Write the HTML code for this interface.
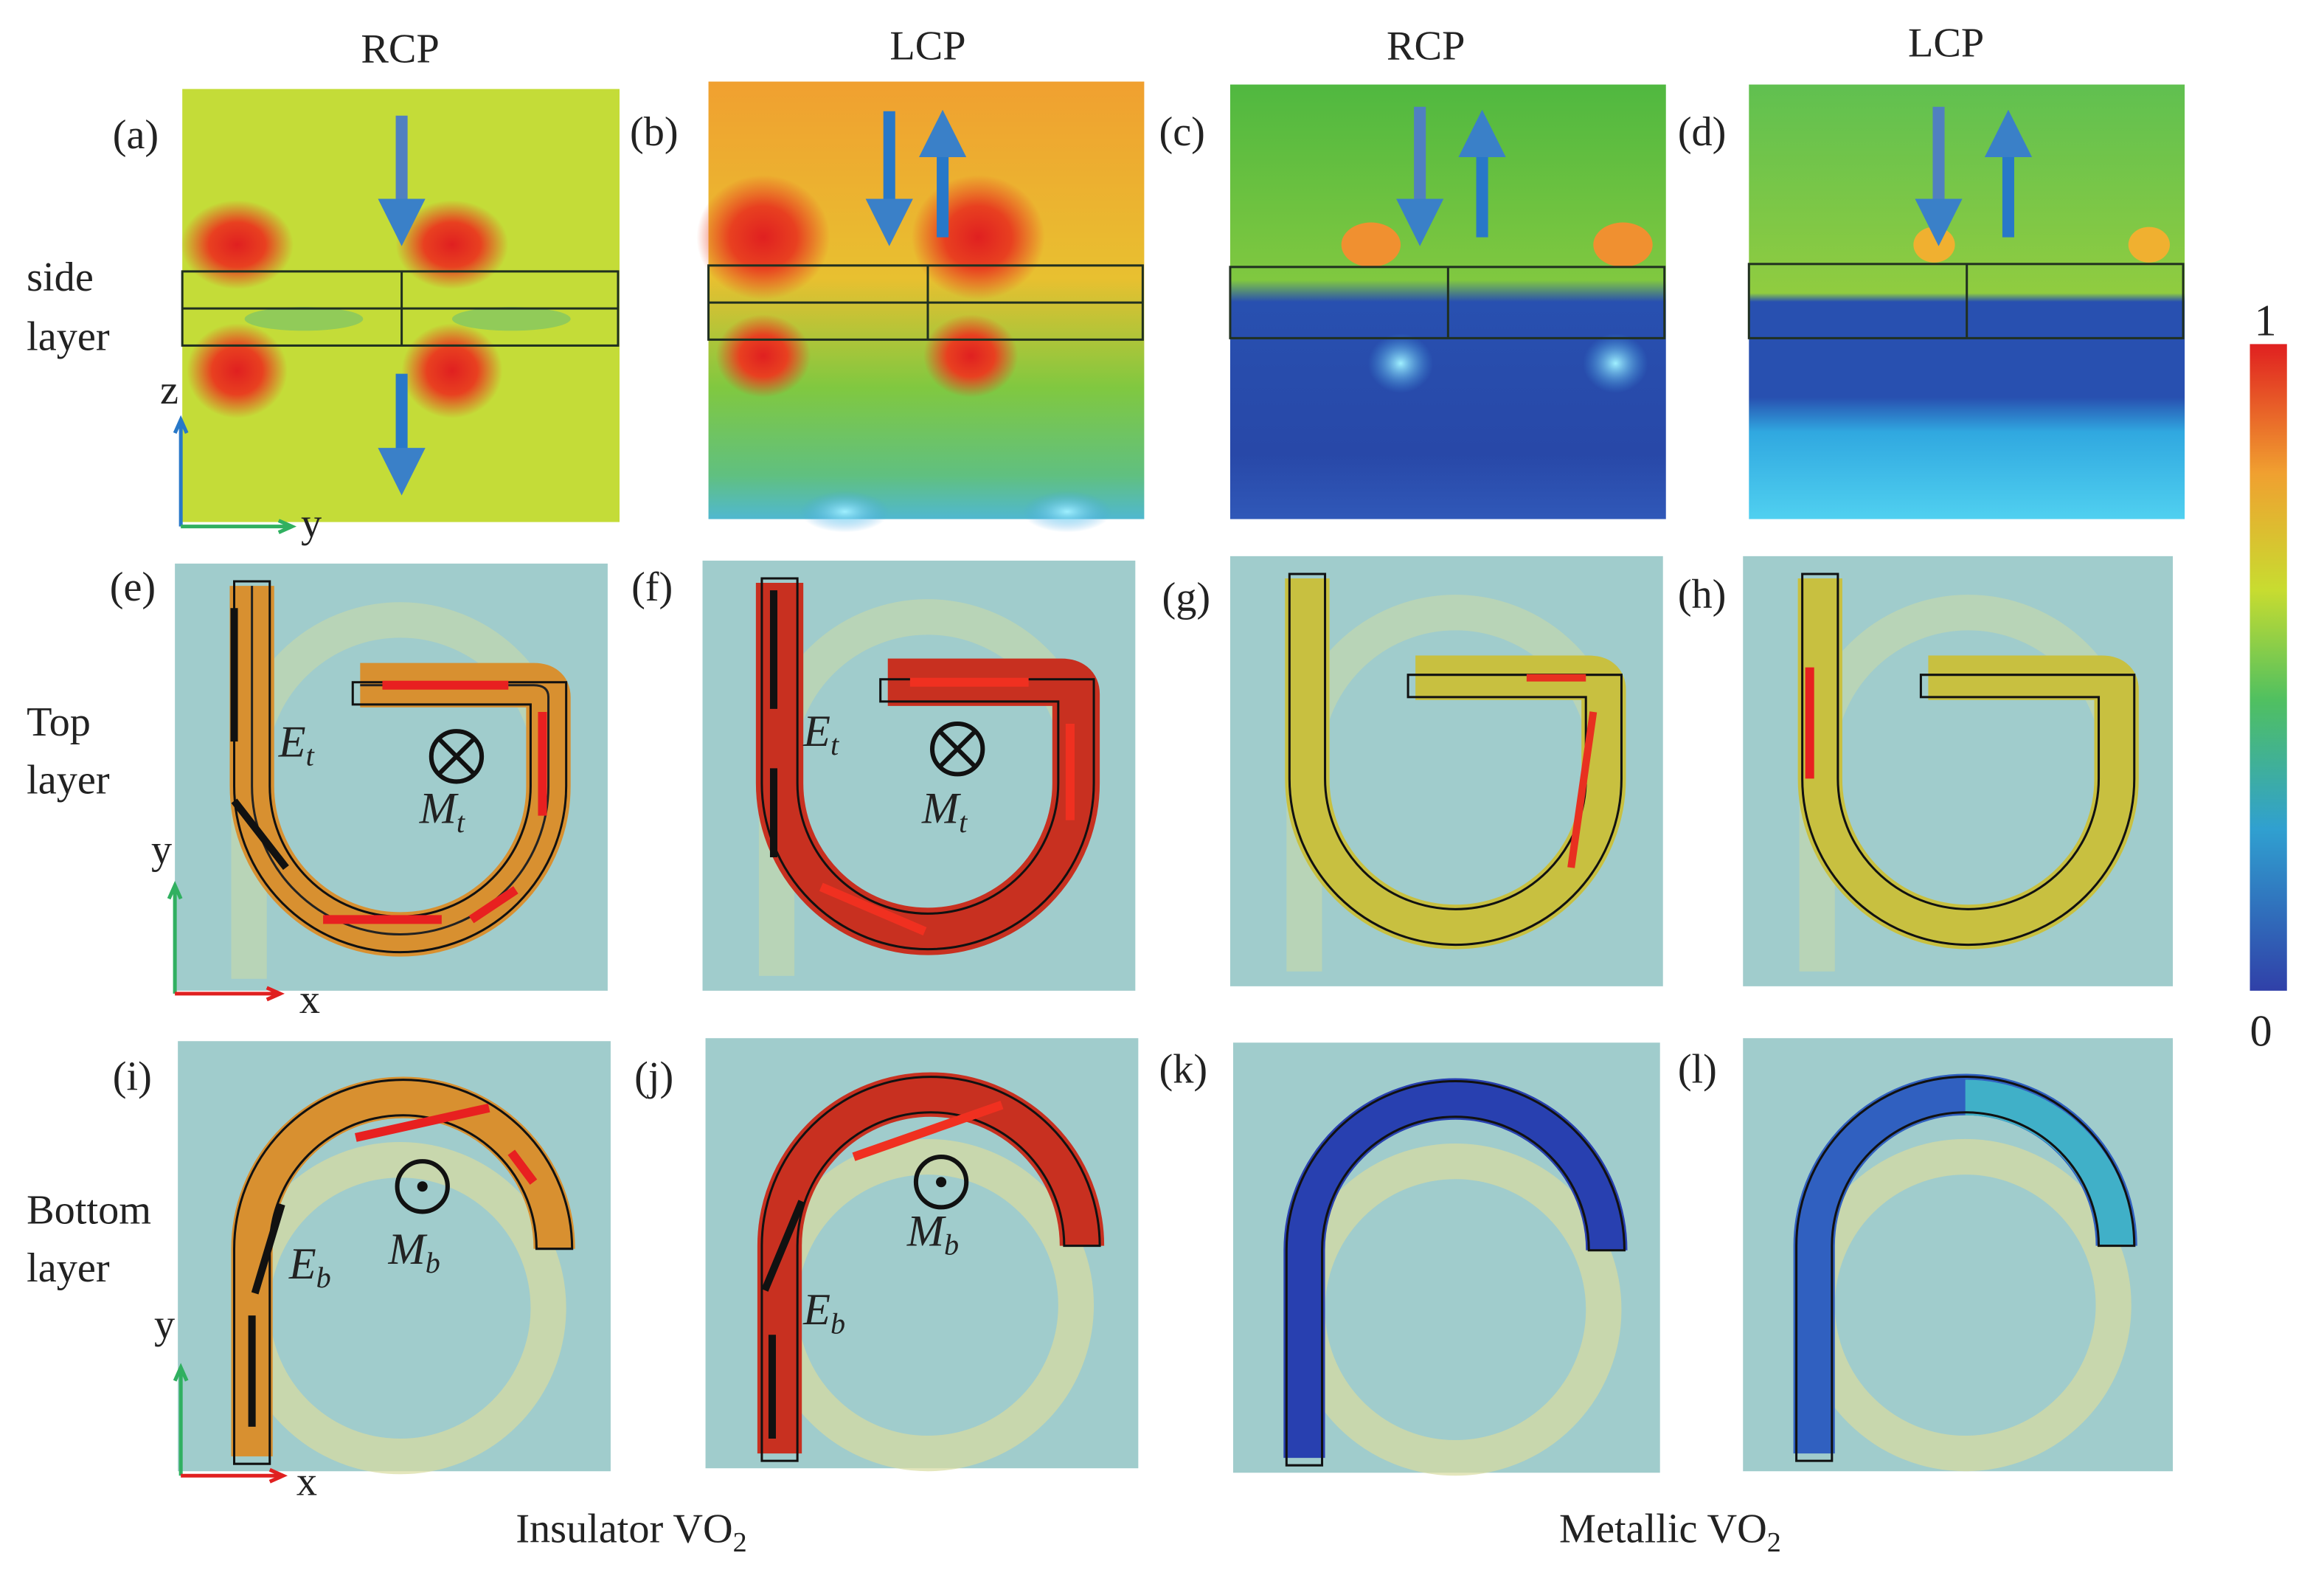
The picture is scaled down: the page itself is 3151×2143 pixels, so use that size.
<!DOCTYPE html>
<html><head><meta charset="utf-8"><style>
html,body{margin:0;padding:0;background:#fff;}
svg{display:block;}
text{font-family:"Liberation Serif",serif;fill:#222;}
</style></head><body>
<svg width="3151" height="2143" viewBox="0 0 1568 1066" preserveAspectRatio="none">
<defs>
<linearGradient id="cb" x1="0" y1="1" x2="0" y2="0">
<stop offset="0" stop-color="#3040a8"/><stop offset="0.25" stop-color="#30a0d0"/><stop offset="0.45" stop-color="#50c060"/><stop offset="0.62" stop-color="#c8dc30"/><stop offset="0.8" stop-color="#f0a030"/><stop offset="1" stop-color="#e02020"/>
</linearGradient>
<linearGradient id="gb" x1="0" y1="0" x2="0" y2="1">
<stop offset="0" stop-color="#f0a030"/><stop offset="0.45" stop-color="#e8c030"/><stop offset="0.7" stop-color="#80c840"/><stop offset="0.9" stop-color="#60c080"/><stop offset="1" stop-color="#50b8d0"/>
</linearGradient>
<linearGradient id="gc" x1="0" y1="0" x2="0" y2="1">
<stop offset="0" stop-color="#50b840"/><stop offset="0.45" stop-color="#80c840"/><stop offset="0.5" stop-color="#2850b0"/><stop offset="0.85" stop-color="#2848a8"/><stop offset="1" stop-color="#3058b8"/>
</linearGradient>
<linearGradient id="gd" x1="0" y1="0" x2="0" y2="1">
<stop offset="0" stop-color="#60c050"/><stop offset="0.48" stop-color="#90cc40"/><stop offset="0.5" stop-color="#2850b0"/><stop offset="0.72" stop-color="#2850b0"/><stop offset="0.8" stop-color="#30a8e0"/><stop offset="1" stop-color="#50d0f0"/>
</linearGradient>
<radialGradient id="rb"><stop offset="0" stop-color="#e02020"/><stop offset="0.5" stop-color="#e84020"/><stop offset="1" stop-color="#e84020" stop-opacity="0"/></radialGradient>
<radialGradient id="cy"><stop offset="0" stop-color="#a0f0ff"/><stop offset="1" stop-color="#40a0e0" stop-opacity="0"/></radialGradient>
<marker id="ab" markerWidth="4" markerHeight="4" refX="2" refY="2" orient="auto"><path d="M0,0 L4,2 L0,4z" fill="#3a80c8"/></marker>
</defs>

<g font-size="28">
<text x="270" y="42" text-anchor="middle">RCP</text>
<text x="626" y="40" text-anchor="middle">LCP</text>
<text x="962" y="40" text-anchor="middle">RCP</text>
<text x="1313" y="38" text-anchor="middle">LCP</text>

<text x="18" y="196">side</text>
<text x="18" y="236">layer</text>
<text x="18" y="496">Top</text>
<text x="18" y="535">layer</text>
<text x="18" y="825">Bottom</text>
<text x="18" y="864">layer</text>
</g>

<g font-size="28">
<text x="76" y="100">(a)</text><text x="425" y="98">(b)</text><text x="782" y="98">(c)</text><text x="1132" y="98">(d)</text>
<text x="74" y="405">(e)</text><text x="426" y="405">(f)</text><text x="784" y="412">(g)</text><text x="1132" y="410">(h)</text>
<text x="76" y="735">(i)</text><text x="428" y="735">(j)</text><text x="782" y="730">(k)</text><text x="1132" y="730">(l)</text>
</g>

<g>
<rect x="123" y="60" width="295" height="292" fill="#c4dc38"/>
<ellipse cx="160" cy="165" rx="38" ry="30" fill="url(#rb)"/>
<ellipse cx="305" cy="165" rx="38" ry="30" fill="url(#rb)"/>
<ellipse cx="160" cy="250" rx="34" ry="32" fill="url(#rb)"/>
<ellipse cx="305" cy="250" rx="34" ry="32" fill="url(#rb)"/>
<ellipse cx="205" cy="215" rx="40" ry="8" fill="#70c070" opacity="0.6"/>
<ellipse cx="345" cy="215" rx="40" ry="8" fill="#70c070" opacity="0.6"/>
<rect x="123" y="183" width="294" height="50" fill="none" stroke="#203020" stroke-width="1.5"/>
<line x1="123" y1="208" x2="417" y2="208" stroke="#203020" stroke-width="1.5"/>
<line x1="271" y1="183" x2="271" y2="233" stroke="#203020" stroke-width="1.5"/>
<line x1="271" y1="78" x2="271" y2="150" stroke="#5080c0" stroke-width="8" marker-end="url(#ab)"/>
<line x1="271" y1="252" x2="271" y2="318" stroke="#2878c8" stroke-width="8" marker-end="url(#ab)"/>
</g>
<g>
<rect x="478" y="55" width="294" height="295" fill="url(#gb)"/>
<ellipse cx="515" cy="160" rx="45" ry="42" fill="url(#rb)"/>
<ellipse cx="660" cy="160" rx="45" ry="42" fill="url(#rb)"/>
<ellipse cx="515" cy="240" rx="32" ry="28" fill="url(#rb)"/>
<ellipse cx="655" cy="240" rx="32" ry="28" fill="url(#rb)"/>
<ellipse cx="570" cy="345" rx="30" ry="14" fill="url(#cy)"/>
<ellipse cx="720" cy="345" rx="30" ry="14" fill="url(#cy)"/>
<rect x="478" y="179" width="293" height="50" fill="none" stroke="#203020" stroke-width="1.5"/>
<line x1="478" y1="204" x2="771" y2="204" stroke="#203020" stroke-width="1.5"/>
<line x1="626" y1="179" x2="626" y2="229" stroke="#203020" stroke-width="1.5"/>
<line x1="600" y1="75" x2="600" y2="150" stroke="#2878c8" stroke-width="8" marker-end="url(#ab)"/>
<line x1="636" y1="160" x2="636" y2="90" stroke="#2878c8" stroke-width="8" marker-end="url(#ab)"/>
</g>
<g>
<rect x="830" y="57" width="294" height="293" fill="url(#gc)"/>
<ellipse cx="925" cy="165" rx="20" ry="15" fill="#f09030"/>
<ellipse cx="1095" cy="165" rx="20" ry="15" fill="#f09030"/>
<ellipse cx="945" cy="245" rx="22" ry="20" fill="url(#cy)"/>
<ellipse cx="1090" cy="245" rx="22" ry="20" fill="url(#cy)"/>
<rect x="830" y="180" width="293" height="48" fill="none" stroke="#203020" stroke-width="1.5"/>
<line x1="977" y1="180" x2="977" y2="228" stroke="#203020" stroke-width="1.5"/>
<line x1="958" y1="72" x2="958" y2="150" stroke="#5080c0" stroke-width="8" marker-end="url(#ab)"/>
<line x1="1000" y1="160" x2="1000" y2="90" stroke="#2878c8" stroke-width="8" marker-end="url(#ab)"/>
</g>
<g>
<rect x="1180" y="57" width="294" height="293" fill="url(#gd)"/>
<ellipse cx="1305" cy="165" rx="14" ry="12" fill="#f0b030"/>
<ellipse cx="1450" cy="165" rx="14" ry="12" fill="#f0b030"/>
<rect x="1180" y="178" width="293" height="50" fill="none" stroke="#203020" stroke-width="1.5"/>
<line x1="1327" y1="178" x2="1327" y2="228" stroke="#203020" stroke-width="1.5"/>
<line x1="1308" y1="72" x2="1308" y2="150" stroke="#5080c0" stroke-width="8" marker-end="url(#ab)"/>
<line x1="1355" y1="160" x2="1355" y2="90" stroke="#2878c8" stroke-width="8" marker-end="url(#ab)"/>
</g>

<g transform="translate(118,380)">
<rect width="292" height="288" fill="#a0cccc"/>
<path d="M50 280 V140 A102 102 0 0 1 254 140" fill="none" stroke="#c8d8a8" stroke-width="24" opacity="0.6"/>
<path d="M52 15 V150 A100 100 0 0 0 252 150 V90 Q252 82 242 82 H125" fill="none" stroke="#d89030" stroke-width="30"/>
<path d="M52 15 V150 A100 100 0 0 0 252 150 V90 Q252 82 242 82 H125" fill="none" stroke="#222" stroke-width="1.5"/>
<path d="M40 12 V150 A112 112 0 0 0 264 150 V80 H120 V95 H240 V150 A88 88 0 0 1 64 150 V12 Z" fill="none" stroke="#111" stroke-width="1.5"/>
<path d="M140 82 H225 M248 100 V170 M230 220 L200 240 M180 240 H100" stroke="#e82020" stroke-width="6" fill="none"/>
<path d="M40 30 V120 M40 160 L75 205" stroke="#111" stroke-width="5" fill="none"/>
</g>
<g transform="translate(474,378)">
<rect width="292" height="290" fill="#a0cccc"/>
<path d="M50 280 V140 A102 102 0 0 1 254 140" fill="none" stroke="#c8d8a8" stroke-width="24" opacity="0.6"/>
<path d="M52 15 V150 A100 100 0 0 0 252 150 V90 Q252 82 242 82 H125" fill="none" stroke="#c83020" stroke-width="32"/>
<path d="M40 12 V150 A112 112 0 0 0 264 150 V80 H120 V95 H240 V150 A88 88 0 0 1 64 150 V12 Z" fill="none" stroke="#111" stroke-width="1.5"/>
<path d="M140 82 H220 M248 110 V175 M80 220 L150 250" stroke="#f03020" stroke-width="6" fill="none"/>
<path d="M48 100 V20 M48 200 V140" stroke="#111" stroke-width="5" fill="none"/>
</g>
<g transform="translate(830,375)">
<rect width="292" height="290" fill="#a0cccc"/>
<path d="M50 280 V140 A102 102 0 0 1 254 140" fill="none" stroke="#c8d8a8" stroke-width="24" opacity="0.6"/>
<path d="M52 15 V150 A100 100 0 0 0 252 150 V90 Q252 82 242 82 H125" fill="none" stroke="#c8c040" stroke-width="30"/>
<path d="M40 12 V150 A112 112 0 0 0 264 150 V80 H120 V95 H240 V150 A88 88 0 0 1 64 150 V12 Z" fill="none" stroke="#111" stroke-width="1.5"/>
<path d="M200 82 H240 M245 105 L230 210" stroke="#e83020" stroke-width="5" fill="none"/>
</g>
<g transform="translate(1176,375)">
<rect width="290" height="290" fill="#a0cccc"/>
<path d="M50 280 V140 A102 102 0 0 1 254 140" fill="none" stroke="#c8d8a8" stroke-width="24" opacity="0.6"/>
<path d="M52 15 V150 A100 100 0 0 0 252 150 V90 Q252 82 242 82 H125" fill="none" stroke="#c8c040" stroke-width="30"/>
<path d="M40 12 V150 A112 112 0 0 0 264 150 V80 H120 V95 H240 V150 A88 88 0 0 1 64 150 V12 Z" fill="none" stroke="#111" stroke-width="1.5"/>
<path d="M45 150 V75" stroke="#e82020" stroke-width="6" fill="none"/>
</g>

<g transform="translate(120,702)">
<rect width="292" height="290" fill="#a0cccc"/>
<circle cx="150" cy="180" r="100" fill="none" stroke="#d8dca0" stroke-width="24" opacity="0.7"/>
<path d="M50 280 V140 A102 102 0 0 1 254 140" fill="none" stroke="#d89030" stroke-width="28"/>
<path d="M38 285 V140 A114 114 0 0 1 266 140 H242 A90 90 0 0 0 62 140 V285 Z" fill="none" stroke="#111" stroke-width="1.5"/>
<path d="M210 45 L120 65 M240 95 L225 75" stroke="#e82020" stroke-width="6" fill="none"/>
<path d="M50 260 V185 M52 170 L70 110" stroke="#111" stroke-width="5" fill="none"/>
</g>
<g transform="translate(476,700)">
<rect width="292" height="290" fill="#a0cccc"/>
<circle cx="150" cy="180" r="100" fill="none" stroke="#d8dca0" stroke-width="24" opacity="0.7"/>
<path d="M50 280 V140 A102 102 0 0 1 254 140" fill="none" stroke="#c83020" stroke-width="30"/>
<path d="M38 285 V140 A114 114 0 0 1 266 140 H242 A90 90 0 0 0 62 140 V285 Z" fill="none" stroke="#111" stroke-width="1.5"/>
<path d="M200 45 L100 80" stroke="#f03020" stroke-width="6" fill="none"/>
<path d="M65 110 L40 170 M45 200 V270" stroke="#111" stroke-width="5" fill="none"/>
</g>
<g transform="translate(832,703)">
<rect width="288" height="290" fill="#a0cccc"/>
<circle cx="150" cy="180" r="100" fill="none" stroke="#d8dca0" stroke-width="24" opacity="0.7"/>
<path d="M48 280 V140 A102 102 0 0 1 252 140" fill="none" stroke="#2840b0" stroke-width="28"/>
<path d="M36 285 V140 A114 114 0 0 1 264 140 H240 A90 90 0 0 0 60 140 V285 Z" fill="none" stroke="#111" stroke-width="1.5"/>
</g>
<g transform="translate(1176,700)">
<rect width="290" height="292" fill="#a0cccc"/>
<circle cx="150" cy="180" r="100" fill="none" stroke="#d8dca0" stroke-width="24" opacity="0.7"/>
<path d="M48 280 V140 A102 102 0 0 1 252 140" fill="none" stroke="#3060c0" stroke-width="28"/>
<path d="M150 40 A102 102 0 0 1 252 140" fill="none" stroke="#40b0c8" stroke-width="24"/>
<path d="M36 285 V140 A114 114 0 0 1 264 140 H240 A90 90 0 0 0 60 140 V285 Z" fill="none" stroke="#111" stroke-width="1.5"/>
</g>

<g font-style="italic" font-size="30">
<text x="188" y="510">E<tspan font-size="20" dy="6">t</tspan></text>
<text x="283" y="555">M<tspan font-size="20" dy="6">t</tspan></text>
<text x="542" y="503">E<tspan font-size="20" dy="6">t</tspan></text>
<text x="622" y="555">M<tspan font-size="20" dy="6">t</tspan></text>
<text x="195" y="862">E<tspan font-size="20" dy="6">b</tspan></text>
<text x="262" y="852">M<tspan font-size="20" dy="6">b</tspan></text>
<text x="542" y="893">E<tspan font-size="20" dy="6">b</tspan></text>
<text x="612" y="840">M<tspan font-size="20" dy="6">b</tspan></text>
</g>
<g fill="none" stroke="#111" stroke-width="3">
<circle cx="308" cy="510" r="17"/><path d="M296 498 L320 522 M320 498 L296 522"/>
<circle cx="646" cy="505" r="17"/><path d="M634 493 L658 517 M658 493 L634 517"/>
<circle cx="285" cy="800" r="17"/><circle cx="635" cy="797" r="17"/>
</g>
<circle cx="285" cy="800" r="3.5" fill="#111"/><circle cx="635" cy="797" r="3.5" fill="#111"/>

<g stroke-width="2.5" fill="none">
<path d="M122 355 V285 M118 292 L122 283 L126 292" stroke="#2878c8"/>
<path d="M122 355 H195 M188 351 L197 355 L188 359" stroke="#30b060"/>
<path d="M118 670 V598 M114 606 L118 597 L122 606" stroke="#30b060"/>
<path d="M118 670 H188 M180 666 L189 670 L180 674" stroke="#e02020"/>
<path d="M122 995 V923 M118 931 L122 922 L126 931" stroke="#30b060"/>
<path d="M122 995 H190 M182 991 L191 995 L182 999" stroke="#e02020"/>
</g>
<g font-size="28">
<text x="108" y="272">z</text><text x="203" y="362">y</text>
<text x="102" y="582">y</text><text x="202" y="683">x</text>
<text x="104" y="902">y</text><text x="200" y="1008">x</text>
</g>

<text x="348" y="1040" font-size="28">Insulator VO<tspan font-size="19" dy="6">2</tspan></text>
<text x="1052" y="1040" font-size="28">Metallic VO<tspan font-size="19" dy="6">2</tspan></text>

<rect x="1518" y="232" width="25" height="436" fill="url(#cb)"/>
<text x="1521" y="226" font-size="30">1</text>
<text x="1518" y="705" font-size="30">0</text>
</svg>
</body></html>
